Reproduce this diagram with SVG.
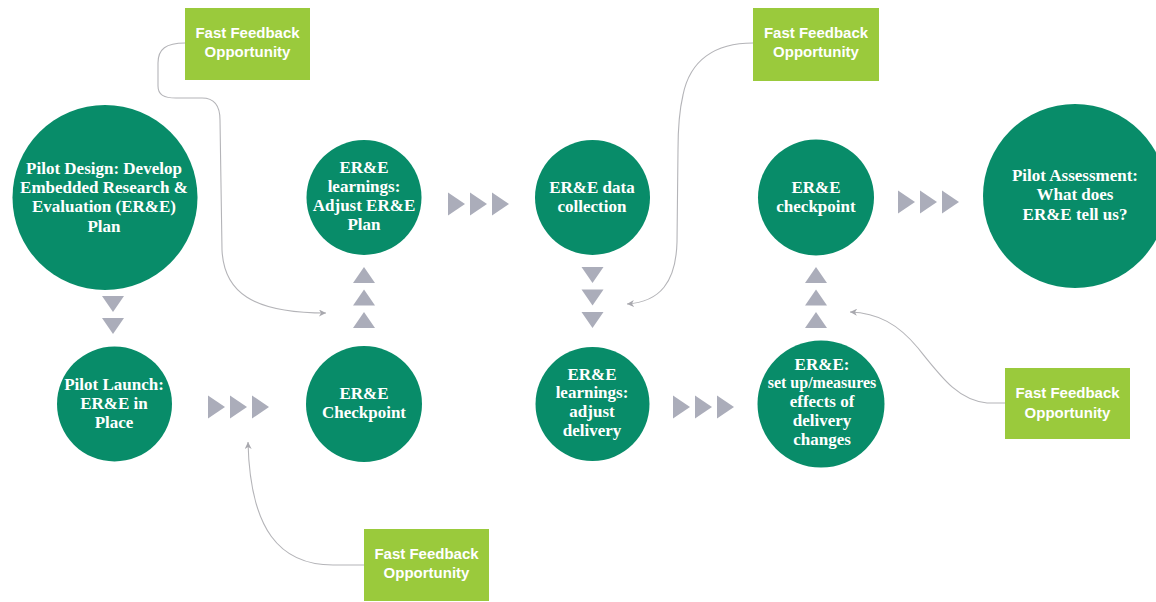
<svg xmlns="http://www.w3.org/2000/svg" width="1156" height="602" viewBox="0 0 1156 602">
<style>
  .node circle { fill: #088c69; }
  .node text { font-family: "Liberation Serif", "Times New Roman", serif; font-weight: bold; font-size: 17px; fill: #ffffff; text-anchor: middle; }
  .node text.sm { font-size: 16px; }
  .fb rect { fill: #9aca3c; }
  .fb text { font-family: "Liberation Sans", Arial, sans-serif; font-weight: bold; font-size: 15px; fill: #ffffff; text-anchor: middle; }
  .tri { fill: #abadba; }
  .conn path { fill: none; stroke: #b4b4b8; stroke-width: 1.1; }
</style>
<defs>
  <marker id="ah" markerUnits="userSpaceOnUse" markerWidth="8" markerHeight="7" refX="7" refY="3.5" orient="auto">
    <path d="M0,0 L7,3.5 L0,7 L2,3.5 z" fill="#a8a8ae"/>
  </marker>
  <path id="tdown" d="M-11,0 L11,0 L0,16 z"/>
  <path id="tup" d="M-11,16 L11,16 L0,0 z"/>
  <path id="tright" d="M0,-11.5 L17,0 L0,11.5 z"/>
</defs>
<rect width="1156" height="602" fill="#ffffff"/>

<g id="connectors" class="conn">
  <path d="M185,43 C166,43 158,49 158,63 L158,86 C158,95 164,98 176,98 L202,98 C214,98 220,106 220,120 L222,250 C224,292 252,313 326,313" marker-end="url(#ah)"/>
  <path d="M753,43 C715,43 690,60 683,95 C679,112 678,130 678,150 L677,242 C676,282 660,302 627,304" marker-end="url(#ah)"/>
  <path d="M364,565 L333,565 C280,565 250,530 248,442" marker-end="url(#ah)"/>
  <path d="M1005,403 L987,403 C958,400 942,378 918,348 C898,324 878,313 850,312" marker-end="url(#ah)"/>
</g>

<g id="triangles" class="tri">
  <use href="#tdown" x="113" y="296"/>
  <use href="#tdown" x="113" y="318"/>
  <use href="#tright" x="208" y="407"/>
  <use href="#tright" x="230" y="407"/>
  <use href="#tright" x="252" y="407"/>
  <use href="#tup" x="364" y="267"/>
  <use href="#tup" x="364" y="289.5"/>
  <use href="#tup" x="364" y="312"/>
  <use href="#tright" x="448" y="204"/>
  <use href="#tright" x="470" y="204"/>
  <use href="#tright" x="492" y="204"/>
  <use href="#tdown" x="592.5" y="267"/>
  <use href="#tdown" x="592.5" y="289.5"/>
  <use href="#tdown" x="592.5" y="312"/>
  <use href="#tright" x="673" y="407"/>
  <use href="#tright" x="695" y="407"/>
  <use href="#tright" x="717" y="407"/>
  <use href="#tup" x="816" y="267"/>
  <use href="#tup" x="816" y="289.5"/>
  <use href="#tup" x="816" y="312"/>
  <use href="#tright" x="898" y="202"/>
  <use href="#tright" x="920" y="202"/>
  <use href="#tright" x="942" y="202"/>
</g>

<g id="pilot-design" class="node">
  <circle cx="105" cy="197.5" r="92.5"/>
  <text x="104" y="174">Pilot Design: Develop</text>
  <text x="104" y="193">Embedded Research &amp;</text>
  <text x="104" y="212">Evaluation (ER&amp;E)</text>
  <text x="104" y="232">Plan</text>
</g>
<g id="pilot-launch" class="node">
  <circle cx="114.5" cy="404" r="57.5"/>
  <text x="114" y="390">Pilot Launch:</text>
  <text x="114" y="409">ER&amp;E in</text>
  <text x="114" y="428">Place</text>
</g>
<g id="checkpoint-1" class="node">
  <circle cx="364" cy="404" r="58"/>
  <text x="364" y="399">ER&amp;E</text>
  <text x="364" y="418">Checkpoint</text>
</g>
<g id="learnings-plan" class="node">
  <circle cx="364" cy="197.5" r="57.5"/>
  <text x="364" y="173">ER&amp;E</text>
  <text x="364" y="192">learnings:</text>
  <text x="364" y="211">Adjust ER&amp;E</text>
  <text x="364" y="230">Plan</text>
</g>
<g id="data-collection" class="node">
  <circle cx="592.5" cy="197.5" r="57.5"/>
  <text x="592" y="193">ER&amp;E data</text>
  <text x="592" y="212">collection</text>
</g>
<g id="learnings-delivery" class="node">
  <circle cx="592.5" cy="404" r="57"/>
  <text x="592" y="380">ER&amp;E</text>
  <text x="592" y="398">learnings:</text>
  <text x="592" y="417">adjust</text>
  <text x="592" y="436">delivery</text>
</g>
<g id="setup-measures" class="node">
  <circle cx="821" cy="404" r="63.5"/>
  <text x="822" y="370">ER&amp;E:</text>
  <text class="sm" x="822" y="388">set up/measures</text>
  <text x="822" y="407">effects of</text>
  <text x="822" y="426">delivery</text>
  <text x="822" y="445">changes</text>
</g>
<g id="checkpoint-2" class="node">
  <circle cx="816" cy="197.5" r="58"/>
  <text x="816" y="193">ER&amp;E</text>
  <text x="816" y="212">checkpoint</text>
</g>
<g id="pilot-assessment" class="node">
  <circle cx="1075" cy="196" r="92"/>
  <text x="1075" y="181">Pilot Assessment:</text>
  <text x="1075" y="200">What does</text>
  <text x="1075" y="220">ER&amp;E tell us?</text>
</g>

<g id="feedback-1" class="fb">
  <rect x="185" y="8" width="125" height="72"/>
  <text x="247.5" y="38">Fast Feedback</text>
  <text x="247.5" y="57">Opportunity</text>
</g>
<g id="feedback-2" class="fb">
  <rect x="753" y="8" width="126" height="73"/>
  <text x="816" y="38">Fast Feedback</text>
  <text x="816" y="57">Opportunity</text>
</g>
<g id="feedback-3" class="fb">
  <rect x="364" y="529" width="125" height="72"/>
  <text x="426.5" y="559">Fast Feedback</text>
  <text x="426.5" y="578">Opportunity</text>
</g>
<g id="feedback-4" class="fb">
  <rect x="1005" y="368" width="125" height="71"/>
  <text x="1067.5" y="398">Fast Feedback</text>
  <text x="1067.5" y="418">Opportunity</text>
</g>
</svg>
